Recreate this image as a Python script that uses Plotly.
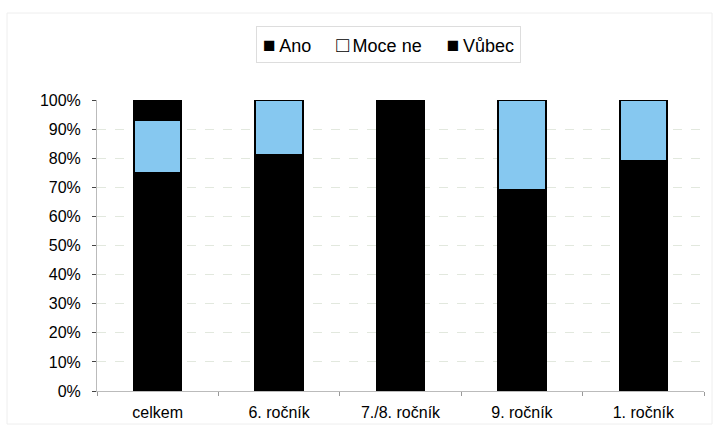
import plotly.graph_objects as go

categories = ["celkem", "6. ročník", "7./8. ročník", "9. ročník", "1. ročník"]
ano = [75, 81, 100, 69, 79]
moce_ne = [18, 19, 0, 31, 21]
vubec = [7, 0, 0, 0, 0]
series_names = ["Ano", "Moce ne", "Vůbec"]
legend_glyphs = ["■", "□", "■"]
tick_vals = [0, 10, 20, 30, 40, 50, 60, 70, 80, 90, 100]
tick_text = [f"{v}%" for v in tick_vals]

BLACK = "#000000"
BLUE = "#86C8F0"
outline = dict(color=BLACK, width=2)

fig = go.Figure()
for values, name, fill in zip([ano, moce_ne, vubec], series_names, [BLACK, BLUE, BLACK]):
    fig.add_trace(go.Bar(x=categories, y=values, name=name,
                         marker=dict(color=fill, line=outline)))

# compact boxed legend line above the plot
legend_text = "     ".join(
    f'<span style="font-size:21px">{g}</span>\u2009{n}' for g, n in zip(legend_glyphs, series_names)
)

FONT = "Liberation Sans, Arial, sans-serif"
fig.update_layout(
    width=720, height=432,
    barmode="stack", bargap=0.61,
    plot_bgcolor="white", paper_bgcolor="white",
    margin=dict(l=97, r=16, t=100, b=41),
    font=dict(family=FONT, size=16, color=BLACK),
    showlegend=False,
    xaxis=dict(showline=True, linecolor="#BBBBBB", linewidth=1,
               ticks="outside", ticklen=4, tickcolor="#999999",
               tickson="boundaries", showgrid=False, ticklabelstandoff=7,
               tickfont=dict(size=16)),
    yaxis=dict(range=[0, 100], tickvals=tick_vals, ticktext=tick_text,
               showline=True, linecolor="#BBBBBB", linewidth=1,
               ticks="outside", ticklen=4, tickcolor="#444444",
               ticklabelstandoff=8,
               showgrid=True, gridcolor="#E2E8DE", griddash="dash", gridwidth=1,
               zeroline=False, tickfont=dict(size=16)),
    annotations=[dict(text=legend_text, xref="paper", yref="paper",
                      x=(388 - 97) / (704 - 97), y=1 + (100 - 44) / 291,
                      xanchor="center", yanchor="middle", showarrow=False,
                      font=dict(family=FONT, size=18, color=BLACK),
                      bordercolor="#DDDDDD", borderwidth=1, borderpad=6,
                      bgcolor="white")],
    shapes=[dict(type="rect", xref="paper", yref="paper",
                 x0=(7 - 97) / 607, x1=(712 - 97) / 607,
                 y0=-(424 - 391) / 291, y1=1 + (100 - 13) / 291,
                 line=dict(color="#EEEEEE", width=1))],
)

fig.write_html("out.html")
